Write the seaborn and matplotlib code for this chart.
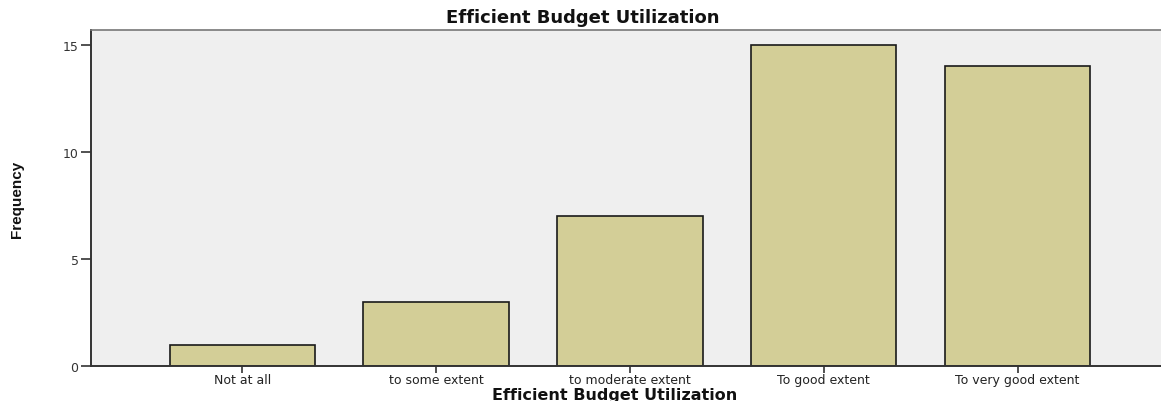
import matplotlib
matplotlib.use("Agg")
import matplotlib.pyplot as plt
import seaborn as sns
import pandas as pd

categories = ["Not at all", "to some extent", "to moderate extent", "To good extent", "To very good extent"]
frequency = [1, 3, 7, 15, 14]
yticks = [0, 5, 10, 15]

sns.set_theme(style="white")
plt.rcParams['font.family'] = ['DejaVu Sans']

df = pd.DataFrame({"cat": categories, "freq": frequency})

fig = plt.figure(figsize=(11.61, 4.02), dpi=100)
ax = fig.add_axes([91/1161, 1 - 367/402, 1 - 91/1161, (367 - 31)/402])
ax.set_facecolor("#efefef")

sns.barplot(data=df, x="cat", y="freq", color="#d3ce97", width=0.75,
            edgecolor="#1a1a1a", linewidth=1.2, saturation=1, ax=ax)

ax.set_xlim(-0.78, 4.74)
ax.set_ylim(0, 15.7)
ax.set_yticks(yticks)
ax.set_yticklabels([str(v) for v in yticks], fontsize=9, color="#333333")
ax.tick_params(axis="x", labelsize=9, length=5, width=1.2, direction="out", color="#333333", pad=0, bottom=True)
ax.tick_params(axis="y", length=7, width=1.2, direction="out", color="#333333", pad=2, left=True)
for lbl in ax.get_xticklabels():
    lbl.set_color("#222222")

for side in ["left", "bottom"]:
    ax.spines[side].set_color("#333333")
    ax.spines[side].set_linewidth(1.4)
ax.spines["top"].set_color("#777777")
ax.spines["top"].set_linewidth(1.2)
ax.spines["right"].set_visible(False)

ax.set_xlabel("")
ax.set_ylabel("")
fig.text(615/1161, 1 - 396/402, "Efficient Budget Utilization", ha="center", va="center",
         fontsize=11.5, fontweight="bold", color="#111111")
fig.text(583/1161, 1 - 18/402, "Efficient Budget Utilization", ha="center", va="center",
         fontsize=13, fontweight="bold", color="#111111")
fig.text(17/1161, 1 - 199/402, "Frequency", ha="center", va="center", rotation=90,
         fontsize=11, fontweight="bold", color="#111111", family="Liberation Sans")

fig.savefig("out.png", dpi=100)
